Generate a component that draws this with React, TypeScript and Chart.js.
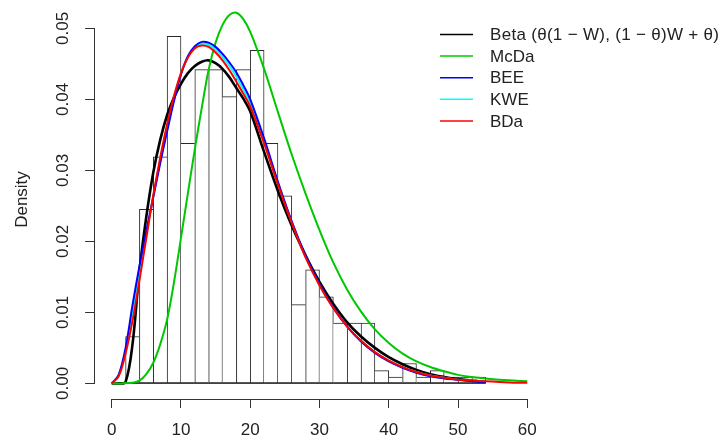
import { useEffect, useRef } from "react";
import { Chart, registerables } from "chart.js";

Chart.register(...registerables);

// Histogram: bin edges (width 2) and density per bin
const binEdges = [0, 2, 4, 6, 8, 10, 12, 14, 16, 18, 20, 22, 24, 26, 28, 30, 32, 34, 36, 38, 40, 42, 44, 46, 48, 50, 52, 54];
const binDensity = [
  0, 0.0066, 0.0245, 0.0319, 0.0489, 0.0338, 0.0442, 0.0442, 0.0404, 0.0442,
  0.0469, 0.0338, 0.0264, 0.0111, 0.0160, 0.0122, 0.0085, 0.0085, 0.0085, 0.0018,
  0.0009, 0.0028, 0.0009, 0.0018, 0.0009, 0.0009, 0.0009,
];

// Fitted density curves sampled on a common grid
const curveX = [0, 1, 2, 3, 4, 5, 6, 7, 8, 9, 10, 11, 12, 13, 14, 15, 16, 17, 18, 19, 20, 22, 24, 26, 28, 30, 32, 34, 36, 38, 40, 42, 44, 46, 48, 50, 52, 54, 56, 58, 60];
const betaY = [0, 0, 0.0002, 0.0055, 0.0158, 0.0235, 0.0297, 0.0343, 0.0378, 0.0403, 0.0422, 0.0437, 0.0447, 0.0453, 0.0455, 0.0451, 0.0443, 0.0431, 0.0416, 0.0401, 0.0383, 0.0326, 0.0271, 0.0222, 0.0180, 0.0143, 0.0112, 0.0086, 0.0066, 0.0050, 0.0037, 0.0027, 0.0019, 0.0013, 0.0009, 0.0006, 0.0004, 0.0002, null, null, null];
const mcdaY = [0, 0, 0.00005, 0.0001, 0.0004, 0.0013, 0.0029, 0.0055, 0.0090, 0.0143, 0.0205, 0.0268, 0.0330, 0.0388, 0.0442, 0.0480, 0.0505, 0.0519, 0.0522, 0.0513, 0.0495, 0.0443, 0.0382, 0.0322, 0.0267, 0.0216, 0.0170, 0.0132, 0.0101, 0.0076, 0.0057, 0.0042, 0.0031, 0.0023, 0.0017, 0.0012, 0.0009, 0.0007, 0.0005, 0.0004, 0.0003];
const beeY = [0, 0.0012, 0.0050, 0.0110, 0.0165, 0.0215, 0.0262, 0.0310, 0.0355, 0.0398, 0.0435, 0.0461, 0.0475, 0.0481, 0.0480, 0.0474, 0.0464, 0.0452, 0.0438, 0.0420, 0.0400, 0.0345, 0.0284, 0.0228, 0.0180, 0.0140, 0.0107, 0.0080, 0.0059, 0.0043, 0.0031, 0.0022, 0.0015, 0.0010, 0.0007, 0.0005, 0.0003, 0.0002, null, null, null];
const kweY = [0, 0.0011, 0.0046, 0.0099, 0.0155, 0.0210, 0.0263, 0.0314, 0.0360, 0.0402, 0.0436, 0.0460, 0.0473, 0.0478, 0.0477, 0.0470, 0.0460, 0.0447, 0.0432, 0.0414, 0.0395, 0.0341, 0.0282, 0.0227, 0.0178, 0.0139, 0.0106, 0.0080, 0.0060, 0.0044, 0.0032, 0.0023, 0.0016, 0.0011, 0.0008, 0.0005, 0.0004, 0.0003, null, null, null];
const bdaY = [0, 0.0010, 0.0042, 0.0088, 0.0145, 0.0205, 0.0265, 0.0318, 0.0365, 0.0405, 0.0437, 0.0459, 0.0472, 0.0476, 0.0474, 0.0466, 0.0455, 0.0441, 0.0425, 0.0408, 0.0390, 0.0338, 0.0280, 0.0226, 0.0177, 0.0138, 0.0106, 0.0080, 0.0060, 0.0044, 0.0032, 0.0023, 0.0016, 0.0011, 0.0008, 0.0005, 0.0004, 0.0003, 0.0002, 0.0001, 0.0001];

const xTicks = [0, 10, 20, 30, 40, 50, 60];
const yTicks = [0, 0.01, 0.02, 0.03, 0.04, 0.05];
const legendLabels = ["Beta (θ(1 − W), (1 − θ)W + θ)", "McDa", "BEE", "KWE", "BDa"];
const legendColors = ["#000000", "#00C800", "#0000FF", "#00FFFF", "#FF0000"];

const FONT = '"Liberation Sans", Arial, sans-serif';

function pts(ys: (number | null)[]) {
  return curveX.map((x, i) => ({ x, y: ys[i] }));
}

const overlayPlugin = {
  id: "rOverlay",
  afterDraw(chart: any) {
    const ctx = chart.ctx;
    const area = chart.chartArea;
    const xs = chart.scales.x;
    const ys = chart.scales.y;
    ctx.save();
    // R-style axis lines spanning only the tick range
    ctx.strokeStyle = "#333333";
    ctx.lineWidth = 1;
    const yb = Math.round(area.bottom) + 0.5;
    ctx.beginPath();
    ctx.moveTo(xs.getPixelForValue(xTicks[0]), yb);
    ctx.lineTo(xs.getPixelForValue(xTicks[xTicks.length - 1]), yb);
    ctx.stroke();
    const xl = Math.round(area.left) - 0.5;
    ctx.beginPath();
    ctx.moveTo(xl, ys.getPixelForValue(yTicks[0]));
    ctx.lineTo(xl, ys.getPixelForValue(yTicks[yTicks.length - 1]));
    ctx.stroke();

    // legend
    ctx.font = `17px ${FONT}`;
    ctx.textBaseline = "middle";
    legendLabels.forEach((lab, i) => {
      const y = 34.5 + i * 21.6;
      ctx.strokeStyle = legendColors[i];
      ctx.lineWidth = 1.5;
      ctx.beginPath();
      ctx.moveTo(440, y);
      ctx.lineTo(473, y);
      ctx.stroke();
      ctx.fillStyle = "#222";
      (ctx as any).letterSpacing = i === 0 ? "0.3px" : "0px";
      ctx.fillText(lab, 490, y + 1);
    });
    ctx.restore();
  },
};

export default function App() {
  const ref = useRef<HTMLCanvasElement | null>(null);

  useEffect(() => {
    if (!ref.current) return;
    const barData = binDensity.map((d, i) => ({ x: (binEdges[i] + binEdges[i + 1]) / 2, y: d }));
    const n = binDensity.length;
    const curve = (label: string, ys: (number | null)[], color: string, width: number, order: number) => ({
      type: "line" as const,
      label,
      data: pts(ys),
      borderColor: color,
      backgroundColor: color,
      borderWidth: width,
      pointRadius: 0,
      tension: 0.35,
      spanGaps: false,
      fill: false,
      order,
    });
    const chart = new Chart(ref.current, {
      type: "bar",
      data: {
        datasets: [
          {
            type: "bar",
            label: "hist",
            data: barData,
            backgroundColor: "#ffffff",
            borderColor: "#2a2a2a",
            borderWidth: (c: any) => {
              const i = c.dataIndex;
              const d = binDensity[i];
              return {
                left: i === 0 || d >= binDensity[i - 1] ? 1 : 0,
                right: i === n - 1 || d > binDensity[i + 1] ? 1 : 0,
                top: 1,
                bottom: 1,
              };
            },
            borderSkipped: false,
            barPercentage: 1,
            categoryPercentage: 1,
            order: 10,
          } as any,
          {
            type: "line",
            label: "base",
            data: [
              { x: binEdges[0], y: 0 },
              { x: binEdges[binEdges.length - 1], y: 0 },
            ],
            borderColor: "#2a2a2a",
            borderWidth: 1,
            pointRadius: 0,
            order: 9,
          } as any,
          curve("Beta", betaY, "#000000", 2.6, 6),
          curve("McDa", mcdaY, "#00C800", 2, 5),
          curve("KWE", kweY, "#00FFFF", 2, 4),
          curve("BEE", beeY, "#0000FF", 2, 3),
          curve("BDa", bdaY, "#FF0000", 2, 1),
        ],
      },
      options: {
        responsive: false,
        animation: false,
        devicePixelRatio: 1,
        layout: { padding: { left: 0, top: 0, right: 176.1, bottom: 0 } },
        plugins: { legend: { display: false }, tooltip: { enabled: false } },
        scales: {
          x: {
            type: "linear",
            offset: false,
            min: -2.4,
            max: 62.4,
            afterBuildTicks: (s: any) => {
              s.ticks = xTicks.map((v) => ({ value: v }));
            },
            afterFit: (s: any) => {
              s.height = 42;
              s.paddingLeft = 0;
              s.paddingRight = 0;
            },
            ticks: {
              font: { size: 17, family: FONT },
              color: "#222",
              padding: 12,
              maxRotation: 0,
              autoSkip: false,
              callback: (v: any) => String(v),
            },
            grid: { display: true, offset: false, drawOnChartArea: false, drawTicks: true, tickLength: 9, color: "#333" },
            border: { display: false },
          },
          y: {
            type: "linear",
            min: -0.0022,
            max: 0.054,
            afterBuildTicks: (s: any) => {
              s.ticks = yTicks.map((v) => ({ value: v }));
            },
            afterFit: (s: any) => {
              s.width = 95.1;
              s.paddingTop = 0;
              s.paddingBottom = 0;
            },
            ticks: {
              font: { size: 17, family: FONT },
              color: "#222",
              padding: 5,
              minRotation: 90,
              maxRotation: 90,
              crossAlign: "center",
              autoSkip: false,
              callback: (v: any) => Number(v).toFixed(2),
            },
            grid: { display: true, drawOnChartArea: false, drawTicks: true, tickLength: 10, color: "#333" },
            border: { display: false },
            title: {
              display: true,
              text: "Density",
              font: { size: 17, family: FONT },
              color: "#222",
              padding: { top: 12, bottom: 0 },
            },
          },
        },
      },
      plugins: [overlayPlugin],
    } as any);
    return () => chart.destroy();
  }, []);

  return (
    <div style={{ position: "fixed", left: 0, top: 0, width: 720, height: 441, background: "#fff" }}>
      <canvas ref={ref} width={720} height={441} style={{ display: "block" }} />
    </div>
  );
}
